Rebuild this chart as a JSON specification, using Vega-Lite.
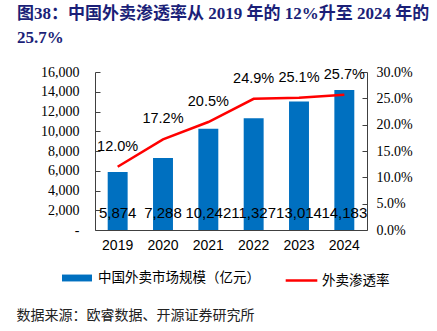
{
  "$schema": "https://vega.github.io/schema/vega-lite/v6.json",
  "width": 272,
  "height": 158,
  "autosize": {"type": "none"},
  "padding": {"left": 95, "top": 72, "right": 70, "bottom": 101},
  "background": "white",
  "config": {"view": {"stroke": null}, "axis": {"grid": false, "labelOverlap": false}},
  "title": {
    "text": ["图38：中国外卖渗透率从 2019 年的 12%升至 2024 年的", "25.7%"],
    "anchor": "start",
    "frame": "group",
    "dx": -78,
    "offset": 18,
    "baseline": "top",
    "font": "Liberation Serif, Noto Sans CJK SC",
    "fontSize": 17,
    "fontWeight": "bold",
    "color": "#1B1F78",
    "lineHeight": 24
  },
  "data": {
    "values": [
      {"year": "2019", "size": 5874, "rate": 0.12},
      {"year": "2020", "size": 7288, "rate": 0.172},
      {"year": "2021", "size": 10242, "rate": 0.205},
      {"year": "2022", "size": 11327, "rate": 0.249},
      {"year": "2023", "size": 13014, "rate": 0.251},
      {"year": "2024", "size": 14183, "rate": 0.257}
    ]
  },
  "encoding": {
    "x": {
      "field": "year",
      "type": "ordinal",
      "scale": {"paddingInner": 0.56, "paddingOuter": 0.28},
      "axis": {
        "title": "数据来源：欧睿数据、开源证券研究所",
        "titleX": -79,
        "titleY": 85,
        "titleAlign": "left",
        "titleAnchor": "start",
        "titleBaseline": "middle",
        "titleFont": "Noto Sans CJK SC",
        "titleFontSize": 14,
        "titleFontWeight": "normal",
        "titleColor": "#222",
        "labelAngle": 0,
        "labelFont": "Liberation Sans",
        "labelFontSize": 14,
        "labelColor": "#000",
        "labelPadding": 8,
        "ticks": false,
        "domainColor": "#404040"
      }
    }
  },
  "layer": [
    {
      "layer": [
        {
          "mark": {"type": "bar"},
          "encoding": {
            "y": {
              "field": "size",
              "type": "quantitative",
              "scale": {"domain": [0, 16000]},
              "axis": {
                "title": null,
                "values": [0, 2000, 4000, 6000, 8000, 10000, 12000, 14000, 16000],
                "tickCount": 20,
                "labelExpr": "datum.value == 0 ? '-\u2007\u2007' : format(datum.value, ',')",
                "labelOverlap": false,
                "labelFont": "Liberation Serif",
                "labelFontSize": 14,
                "labelColor": "#000",
                "tickSize": -5,
                "labelPadding": 21,
                "tickColor": "#404040",
                "domainColor": "#404040"
              }
            },
            "fill": {
              "datum": "中国外卖市场规模（亿元）",
              "scale": {"range": ["#0070C0"]},
              "legend": {
                "orient": "none",
                "legendX": -33,
                "legendY": 191,
                "title": null,
                "padding": 0,
                "symbolType": "M-1,-0.23H1V0.23H-1Z",
                "symbolSize": 900,
                "symbolStrokeWidth": 0,
                "labelFont": "Noto Sans CJK SC",
                "labelFontSize": 13.5,
                "labelLimit": 400,
                "labelColor": "#000",
                "labelOffset": 6
              }
            }
          }
        },
        {
          "mark": {"type": "text", "baseline": "middle", "dy": -17, "font": "Liberation Sans", "fontSize": 15, "color": "#000"},
          "encoding": {
            "y": {"datum": 0},
            "text": {"field": "size", "type": "quantitative", "format": ","}
          }
        }
      ]
    },
    {
      "layer": [
        {
          "mark": {"type": "line", "strokeWidth": 2.5},
          "encoding": {
            "y": {
              "field": "rate",
              "type": "quantitative",
              "scale": {"domain": [0, 0.3]},
              "axis": {
                "orient": "right",
                "title": null,
                "values": [0, 0.05, 0.1, 0.15, 0.2, 0.25, 0.3],
                "tickCount": 20,
                "format": ".1%",
                "labelOverlap": false,
                "labelFont": "Liberation Serif",
                "labelFontSize": 14,
                "labelColor": "#000",
                "tickSize": -5,
                "labelPadding": 14,
                "tickColor": "#404040",
                "domainColor": "#404040"
              }
            },
            "stroke": {
              "datum": "外卖渗透率",
              "scale": {"range": ["#FF0000"]},
              "legend": {
                "orient": "none",
                "legendX": 189,
                "legendY": 191,
                "title": null,
                "padding": 0,
                "symbolType": "stroke",
                "symbolSize": 1000,
                "symbolStrokeWidth": 2.5,
                "labelFont": "Noto Sans CJK SC",
                "labelFontSize": 13.5,
                "labelLimit": 400,
                "labelColor": "#000",
                "labelOffset": 3
              }
            }
          }
        },
        {
          "mark": {"type": "text", "baseline": "middle", "dy": -20, "font": "Liberation Sans", "fontSize": 14.5, "color": "#000"},
          "encoding": {
            "y": {"field": "rate", "type": "quantitative"},
            "text": {"field": "rate", "type": "quantitative", "format": ".1%"}
          }
        }
      ]
    }
  ],
  "resolve": {"scale": {"y": "independent"}}
}
